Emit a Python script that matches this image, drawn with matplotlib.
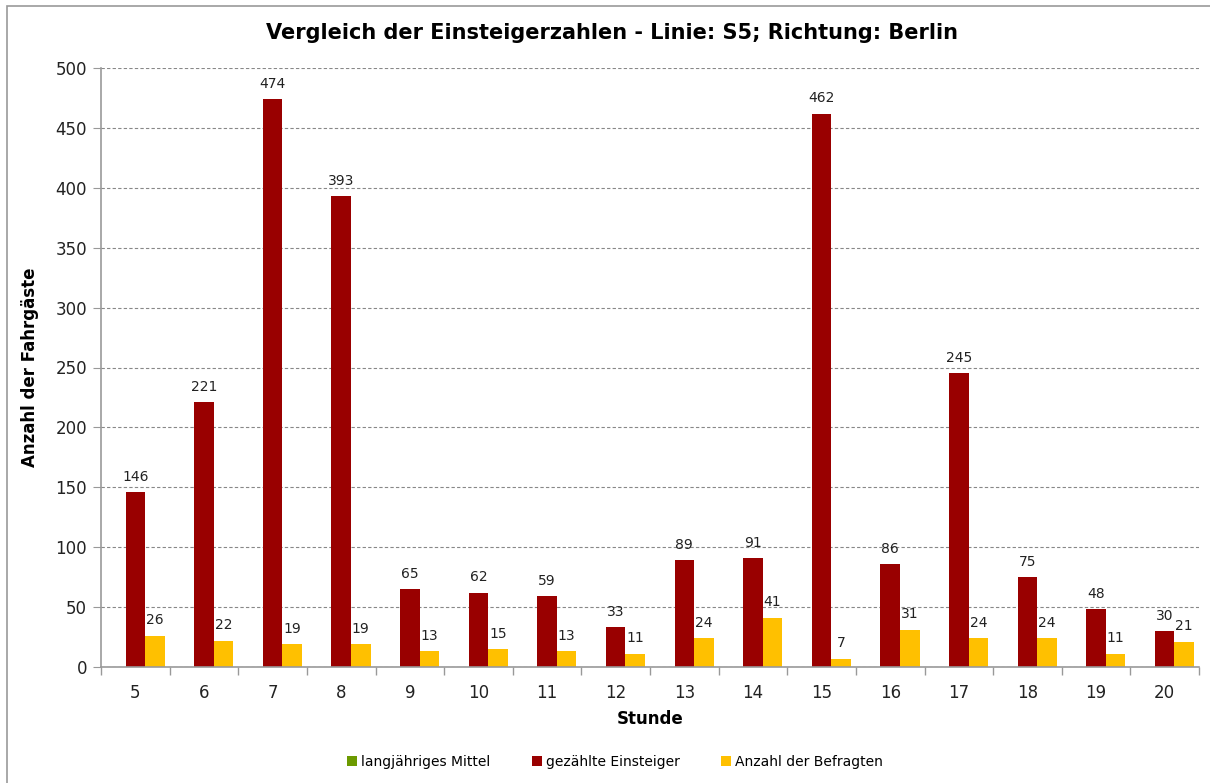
import matplotlib
matplotlib.use("Agg")
import matplotlib.pyplot as plt
from matplotlib.patches import Rectangle
import numpy as np

stunden = ["5", "6", "7", "8", "9", "10", "11", "12", "13", "14", "15", "16", "17", "18", "19", "20"]
mittel = [0] * 16
einsteiger = [146, 221, 474, 393, 65, 62, 59, 33, 89, 91, 462, 86, 245, 75, 48, 30]
befragte = [26, 22, 19, 19, 13, 15, 13, 11, 24, 41, 7, 31, 24, 24, 11, 21]

plt.rcParams['font.family'] = ['DejaVu Sans']

W, H = 1210, 783
fig = plt.figure(figsize=(W / 100, H / 100), dpi=100)
ax = fig.add_axes([101 / W, 1 - 667 / H, (1199 - 101) / W, (667 - 68) / H])

x = np.arange(len(stunden))
bw = 0.285
c_green = "#6c9a00"
c_red = "#990000"
c_yel = "#ffc000"

ax.bar(x - bw, mittel, bw, color=c_green, label="langjähriges Mittel")
b1 = ax.bar(x, einsteiger, bw, color=c_red, label="gezählte Einsteiger")
b2 = ax.bar(x + bw, befragte, bw, color=c_yel, label="Anzahl der Befragten")

for rect, v in zip(b1, einsteiger):
    ax.text(rect.get_x() + rect.get_width() / 2, v + 7, str(v), ha="center", va="bottom",
            fontsize=10, color="#222222")
for rect, v in zip(b2, befragte):
    ax.text(rect.get_x() + rect.get_width() / 2, v + 7, str(v), ha="center", va="bottom",
            fontsize=10, color="#222222")

ax.set_xlim(-0.5, len(stunden) - 0.5)
ax.set_ylim(0, 500)
ax.set_yticks(range(0, 501, 50))
ax.set_xticks(x)
ax.set_xticklabels(stunden)
ax.set_xticks(np.arange(-0.5, len(stunden), 1), minor=True)
ax.tick_params(axis="x", which="major", length=0, labelsize=12, pad=12, colors="#222222")
ax.tick_params(axis="x", which="minor", length=6, color="#999999", width=1)
ax.tick_params(axis="y", length=6, color="#999999", labelsize=12, colors="#222222", pad=4)
for lbl in ax.get_xticklabels() + ax.get_yticklabels():
    lbl.set_color("#222222")

ax.yaxis.grid(True, linestyle=(0, (3, 2)), color="#888888", linewidth=0.8)
ax.set_axisbelow(True)
for s in ["top", "right"]:
    ax.spines[s].set_visible(False)
for s in ["left", "bottom"]:
    ax.spines[s].set_color("#999999")
    ax.spines[s].set_linewidth(1.2)

ax.set_xlabel("Stunde", fontsize=12, fontweight="bold", labelpad=6)
ax.set_ylabel("Anzahl der Fahrgäste", fontsize=12, fontweight="bold", labelpad=12)

fig.suptitle("Vergleich der Einsteigerzahlen - Linie: S5; Richtung: Berlin",
             fontsize=15, fontweight="bold", x=612 / W, y=1 - 33 / H, va="center")

leg = fig.legend(loc="center", bbox_to_anchor=(615 / W, 1 - 762 / H), ncol=3, frameon=False,
                 fontsize=10, handlelength=0.7, handleheight=0.7, handletextpad=0.3,
                 columnspacing=3.0)

fig.patches.append(Rectangle((7 / W, -0.05), 1.2, 1 - 6 / H + 0.05, transform=fig.transFigure,
                             fill=False, edgecolor="#999999", linewidth=1.2))

fig.savefig("out.png", dpi=100)
